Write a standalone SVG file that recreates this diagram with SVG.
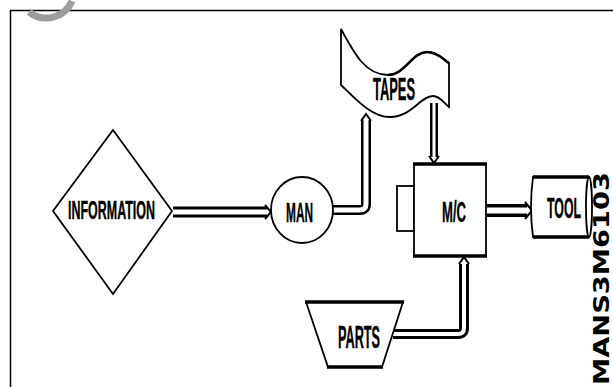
<svg xmlns="http://www.w3.org/2000/svg" width="613" height="387" viewBox="0 0 613 387">
<style>
.shape{fill:#fff;stroke:#000;stroke-width:1.8}
.thick{fill:none;stroke:#000;stroke-width:3.5}
.lbl{font-family:"Liberation Sans Narrow","Liberation Sans",Arial,sans-serif;font-weight:bold;fill:#000;stroke:#000;stroke-width:0.4}
.o{fill:none;stroke:#000;stroke-width:11}
.i{fill:none;stroke:#fff;stroke-width:5}
.ah{fill:none;stroke:#000;stroke-width:2}
</style>
<rect width="613" height="387" fill="#fff"/>
<path d="M10.5,387 V10.5 H613" fill="none" stroke="#000" stroke-width="1.5"/>
<path d="M29,12 A28 28 0 0 0 72,1" fill="none" stroke="#9c9c9c" stroke-width="7"/>

<g id="connectors">
  <path class="o" d="M173,212 H267"/><path class="i" d="M173,212 H267"/>
  <path class="ah" d="M265,205 L271,212 L265,219"/>
  <path class="o" d="M332,210 H360 Q366,210 366,204 V120" style="stroke-width:10"/><path class="i" d="M332,210 H360 Q366,210 366,204 V120" style="stroke-width:5"/>
  <path class="ah" d="M361,121 L366,114 L371,121"/>
  <path class="o" d="M434,103 V157" style="stroke-width:8"/><path class="i" d="M434,103 V157" style="stroke-width:3"/>
  <path class="ah" d="M429,156 L434,163 L439,156"/>
  <path class="o" d="M487,210.5 H527" style="stroke-width:13"/><path class="i" d="M487,210.5 H527" style="stroke-width:6"/>
  <path class="ah" d="M525,202 L532,210.5 L525,219"/>
  <path class="o" d="M393,334 H458 Q464,334 464,328 V264" style="stroke-width:10"/><path class="i" d="M393,334 H458 Q464,334 464,328 V264" style="stroke-width:4"/>
  <path class="ah" d="M459,264 L464,257 L469,264"/>
</g>

<g id="information">
  <polygon class="shape" points="113,130 172,211 113,294 53,211"/>
  <text class="lbl" x="68" y="219" font-size="25" textLength="87" lengthAdjust="spacingAndGlyphs">INFORMATION</text>
</g>

<g id="man">
  <ellipse class="shape" cx="302" cy="210" rx="31" ry="33"/>
  <text class="lbl" x="286" y="222" font-size="28" textLength="27" lengthAdjust="spacingAndGlyphs">MAN</text>
</g>

<g id="tapes">
  <path class="shape" d="M341,29 C355,55 366,75 388,75 C405,75 412,52 427,52 C438,52 444,60 449,63 L449,107 C444,103 440,96 433,96 C420,96 412,117 390,117 C370,117 352,95 341,85 Z"/>
  <path d="M388,75 C405,75 412,52 427,52 C438,52 444,60 449,63" fill="none" stroke="#000" stroke-width="2.5"/>
  <text class="lbl" x="373" y="100" font-size="31" textLength="42" lengthAdjust="spacingAndGlyphs">TAPES</text>
</g>

<g id="mc">
  <rect class="shape" x="397" y="186" width="17" height="45"/>
  <rect class="shape" x="414" y="164" width="72" height="92"/>
  <path class="thick" d="M413,164 H487 M413,256 H487"/>
  <text class="lbl" x="442" y="222" font-size="29" textLength="24" lengthAdjust="spacingAndGlyphs">M/C</text>
</g>

<g id="tool">
  <path class="shape" d="M533,177 Q529,207 533,237 H589 V177 Z"/>
  <ellipse class="shape" cx="589" cy="207" rx="3" ry="30"/>
  <path class="thick" d="M533,177 H589 M533,237 H589"/>
  <text class="lbl" x="547" y="218" font-size="29" textLength="34" lengthAdjust="spacingAndGlyphs">TOOL</text>
</g>

<g id="parts">
  <polygon class="shape" points="306,302 403,302 382,367 328,367"/>
  <path class="thick" d="M305,302 H404 M327,367 H383"/>
  <text class="lbl" x="338" y="348" font-size="31" textLength="42" lengthAdjust="spacingAndGlyphs">PARTS</text>
</g>

<text transform="translate(609,385) rotate(-90)" font-family="'DejaVu Sans','Liberation Sans',sans-serif" font-weight="bold" font-size="22" textLength="213" lengthAdjust="spacingAndGlyphs">MANS3M6103</text>
</svg>
